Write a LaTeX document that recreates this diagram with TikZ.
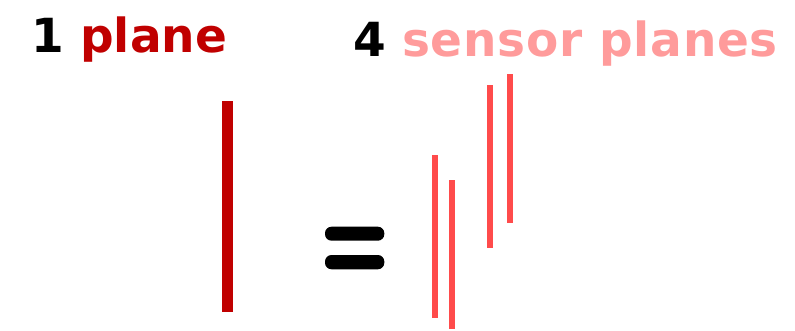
\documentclass[tikz,border=0pt]{standalone}
\usepackage{fontspec}
\setmainfont{DejaVu Sans}
\definecolor{darkred}{HTML}{C00000}
\definecolor{lightred}{HTML}{FF9B9B}
\definecolor{midred}{HTML}{FF4B4B}
\tikzset{
  title/.style={font=\fontsize{47}{50}\selectfont\bfseries, inner sep=0pt, anchor=base west},
  sensor/.style={fill=midred},
  eqbar/.style={fill=black, rounded corners=6.5pt}
}
\begin{document}
\begin{tikzpicture}[x=1pt,y=-1pt]
\useasboundingbox (0,0) rectangle (795,331);
\node[title] (t1) at (31,52.3) {1 \textcolor{darkred}{plane}};
\node[title] (t2) at (353,56.7) {4 \textcolor{lightred}{\addfontfeatures{LetterSpace=1.5}sensor planes}};
% big plane
\fill[darkred] (222,101) rectangle (233.3,311.7);
% equals
\fill[eqbar] (325,226.7) rectangle (384.3,240.7);
\fill[eqbar] (325,255) rectangle (384.3,269.3);
% sensor planes
\fill[sensor] (432.3,155) rectangle (438.3,317.7);
\fill[sensor] (449.3,179.7) rectangle (455.3,329.3);
\fill[sensor] (487,85.3) rectangle (492.7,248.3);
\fill[sensor] (507,74) rectangle (512.7,223.3);
\end{tikzpicture}
\end{document}
